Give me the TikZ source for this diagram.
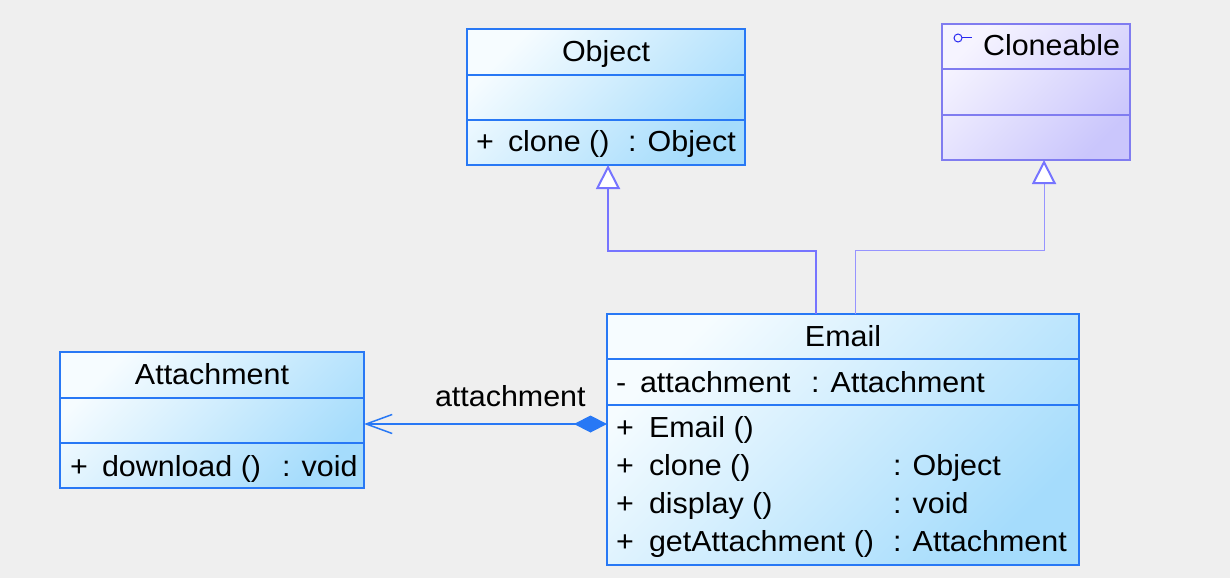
\documentclass[tikz,border=0pt]{standalone}
\usepackage{fontspec}
\setmainfont{Liberation Sans}[FakeStretch=1.05]
\usetikzlibrary{arrows.meta}
\definecolor{bgcol}{RGB}{239,239,239}
\definecolor{bluebd}{RGB}{40,120,245}
\definecolor{bluelt}{RGB}{246,252,255}
\definecolor{bluedk}{RGB}{165,220,252}
\definecolor{purbd}{RGB}{128,124,240}
\definecolor{purlt}{RGB}{246,244,255}
\definecolor{purdk}{RGB}{202,198,252}
\definecolor{genline}{RGB}{118,116,255}
\definecolor{genthin}{RGB}{150,148,255}
\definecolor{iconcol}{RGB}{40,40,240}
\begin{document}
\begin{tikzpicture}[x=1pt,y=-1pt,
  every node/.style={inner sep=0pt,outer sep=0pt},
  classbox/.style={draw=bluebd,line width=1.5pt,rectangle,anchor=north west,
     top color=bluelt,bottom color=bluedk,shading angle=45},
  ifacebox/.style={draw=purbd,line width=1.5pt,rectangle,anchor=north west,
     top color=purlt,bottom color=purdk,shading angle=45},
  divider/.style={draw=bluebd,line width=1.5pt},
  pdivider/.style={draw=purbd,line width=1.5pt},
  txt/.style={anchor=base west,font=\fontsize{29}{34}\selectfont},
  htxt/.style={anchor=base,font=\fontsize{29}{34}\selectfont},
  gen/.style={draw=genline,line width=2pt,-{Triangle[length=24pt,width=24pt,fill=white,line width=2pt]}},
  genthinline/.style={draw=genthin,line width=1pt,-{Triangle[length=24pt,width=24pt,fill=white,line width=2pt,color=genline]}},
  assoc/.style={draw=bluebd,line width=1.5pt,{Diamond[length=33pt,width=17pt,fill=bluebd]}-{Straight Barb[length=26pt,width=19pt,line width=1.5pt]}}
]
\useasboundingbox (0,0) rectangle (1230,578);
\fill[bgcol] (0,0) rectangle (1230,578);

% Object
\node[classbox,minimum width=278pt,minimum height=136pt] (object) at (467,29) {};
\draw[divider] (object.west |- 0,75) -- (object.east |- 0,75);
\draw[divider] (object.west |- 0,120) -- (object.east |- 0,120);
\node[htxt] (objname) at (606,62) {Object};
\node[txt] (objp) at (476,151) {+};
\node[txt] (objop) at (508,151) {clone ()};
\node[txt] (objty) at (628,151) {: Object};

% Cloneable
\node[ifacebox,minimum width=188pt,minimum height=136pt] (clone) at (942,24) {};
\draw[pdivider] (clone.west |- 0,69) -- (clone.east |- 0,69);
\draw[pdivider] (clone.west |- 0,115) -- (clone.east |- 0,115);
\node[txt] (clname) at (983,56) {Cloneable};
\draw[draw=iconcol,line width=1pt] (958,38) circle (4pt);
\draw[draw=iconcol,line width=1pt] (962,38) -- (972,38);

% Attachment
\node[classbox,minimum width=304pt,minimum height=136pt] (attach) at (60,352) {};
\draw[divider] (attach.west |- 0,398) -- (attach.east |- 0,398);
\draw[divider] (attach.west |- 0,443) -- (attach.east |- 0,443);
\node[htxt] (atname) at (212,384) {Attachment};
\node[txt] (atp) at (70,476) {+};
\node[txt] (atop) at (102,476) {download ()};
\node[txt] (atty) at (282,476) {: void};

% Email
\node[classbox,minimum width=472pt,minimum height=251pt] (email) at (607,314) {};
\draw[divider] (email.west |- 0,359) -- (email.east |- 0,359);
\draw[divider] (email.west |- 0,405) -- (email.east |- 0,405);
\node[htxt] (emname) at (843,346) {Email};
\node[txt] (ema) at (616,392) {-};
\node[txt] (emattr) at (640,392) {attachment};
\node[txt] (emattrty) at (811,392) {: Attachment};
\node[txt] (emp1) at (616,437) {+};
\node[txt] (emo1) at (649,437) {Email ()};
\node[txt] (emp2) at (616,475) {+};
\node[txt] (emo2) at (649,475) {clone ()};
\node[txt] (emt2) at (893,475) {: Object};
\node[txt] (emp3) at (616,513) {+};
\node[txt] (emo3) at (649,513) {display ()};
\node[txt] (emt3) at (893,513) {: void};
\node[txt] (emp4) at (616,551) {+};
\node[txt] (emo4) at (649,551) {getAttachment ()};
\node[txt] (emt4) at (893,551) {: Attachment};

% connectors
\coordinate (e1) at (email.north -| 816,0);
\coordinate (o1) at (object.south -| 608,0);
\draw[gen] (e1) -- ++(0,-63) -| (o1);
\coordinate (e2) at (email.north -| 855,0);
\coordinate (c1) at (clone.south -| 1044,0);
\draw[genthinline] (e2) -- ++(0,-64) -| (c1);
\coordinate (a1) at (email.west |- 0,424);
\coordinate (a2) at (attach.east |- 0,424);
\draw[assoc] (a1) -- (a2);
\node[txt] (assoclbl) at (435,406) {attachment};
\end{tikzpicture}
\end{document}
